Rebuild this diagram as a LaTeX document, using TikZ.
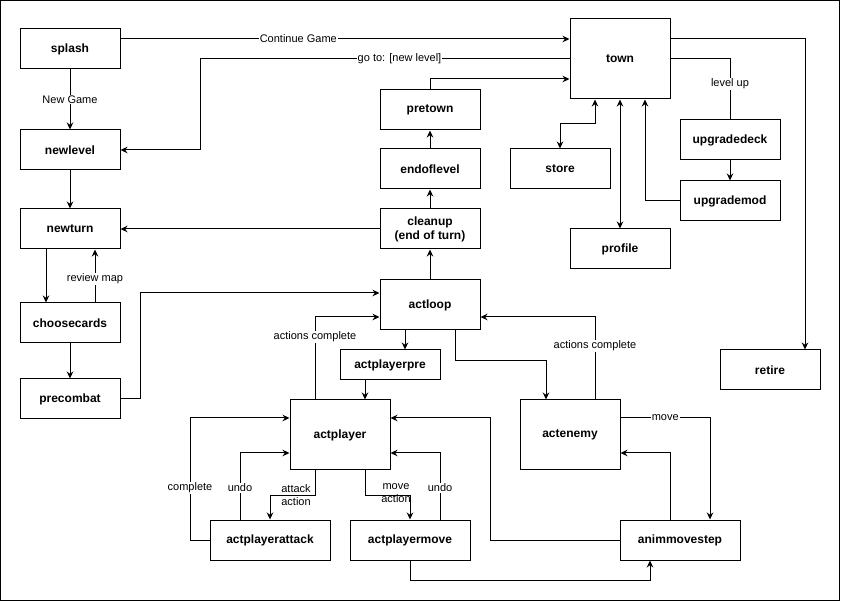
\documentclass[tikz,border=0pt]{standalone}
\usepackage{fontspec}
\setmainfont{Liberation Sans}
\usetikzlibrary{arrows.meta}
\begin{document}
\begin{tikzpicture}[x=1pt,y=-1pt,line width=1pt,
  box/.style={draw,line width=1pt,minimum width=100pt,minimum height=40pt,inner sep=0pt,
    font=\bfseries\fontsize{12}{14}\selectfont,align=center},
  arr/.style={-{Stealth[length=7pt,width=6.5pt]}},
  dbl/.style={{Stealth[length=7pt,width=6.5pt]}-{Stealth[length=7pt,width=6.5pt]}},
  lbl/.style={fill=white,inner sep=1pt,font=\fontsize{11}{12.5}\selectfont,align=center}]
\useasboundingbox (0,0) rectangle (841,601);
\draw (0.5,0.5) rectangle (839.5,600);
% nodes
\node[box] (splash) at (70,49) {splash};
\node[box] (newlevel) at (70,150) {newlevel};
\node[box] (newturn) at (70,229) {newturn};
\node[box] (choosecards) at (70,323) {choosecards};
\node[box] (precombat) at (70,399) {precombat};
\node[box,minimum height=80pt] (town) at (620,59) {town};
\node[box] (pretown) at (430,110) {pretown};
\node[box] (endoflevel) at (430,169) {endoflevel};
\node[box] (store) at (560,169) {store};
\node[box] (upgradedeck) at (730,140) {upgradedeck};
\node[box] (upgrademod) at (730,201) {upgrademod};
\node[box] (profile) at (620,249) {profile};
\node[box] (retire) at (770,370) {retire};
\node[box] (cleanup) at (430,229) {cleanup\\(end of turn)};
\node[box,minimum height=50pt] (actloop) at (430,305) {actloop};
\node[box,minimum height=30pt] (actplayerpre) at (390,365) {actplayerpre};
\node[box,minimum height=70pt] (actplayer) at (340,435) {actplayer};
\node[box,minimum height=70pt] (actenemy) at (570,435) {actenemy};
\node[box,minimum width=120pt] (actplayerattack) at (270,540) {actplayerattack};
\node[box,minimum width=120pt] (actplayermove) at (410,540) {actplayermove};
\node[box,minimum width=120pt] (animmovestep) at (680,540) {animmovestep};
% edges
\draw[arr] ([yshift=10pt]splash.east) -- node[lbl,pos=0.396]{Continue Game} ([yshift=20pt]town.west);
\draw[arr] (town.west) -- node[lbl,pos=0.46]{go to: [new level]} (200,59) |- (newlevel.east);
\draw[arr] (pretown.north) |- ([yshift=-20pt]town.west);
\draw[arr] (splash) -- node[lbl]{New Game} (newlevel);
\draw[arr] (newlevel) -- (newturn);
\draw[arr] ([xshift=-24pt]newturn.south) -- ([xshift=-24pt]choosecards.north);
\draw[arr] ([xshift=25pt]choosecards.north) -- node[lbl,pos=0.45]{review map} ([xshift=25pt]newturn.south);
\draw[arr] (choosecards) -- (precombat);
\draw[arr] (precombat.east) -- (140,399) |- ([yshift=12pt]actloop.west);
\draw[arr] ([xshift=-25pt]actplayer.north) |- node[lbl,pos=0.38]{actions complete} ([yshift=-12pt]actloop.west);
\draw[arr] ([xshift=-25pt]actloop.south) -- ([xshift=15pt]actplayerpre.north);
\draw[arr] ([xshift=-25pt]actplayerpre.south) -- ([xshift=25pt]actplayer.north);
\draw[arr] ([xshift=25pt]actloop.south) -- (455,361) -| ([xshift=-24pt]actenemy.north);
\draw[arr] ([xshift=25pt]actenemy.north) |- node[lbl,pos=0.325]{actions complete} ([yshift=-12pt]actloop.east);
\draw[arr] (actloop) -- (cleanup);
\draw[arr] (cleanup.west) -- (newturn.east);
\draw[arr] (cleanup) -- (endoflevel);
\draw[arr] (endoflevel) -- (pretown);
\draw[dbl] (store.north) -- (560,124) -| ([xshift=-25pt]town.south);
\draw[dbl] (town.south) -- (profile.north);
\draw[arr] (upgrademod.west) -| ([xshift=25pt]town.south);
\draw (town.east) -| node[lbl,pos=0.705]{level up} (upgradedeck.north);
\draw[arr] (upgradedeck) -- (upgrademod);
\draw[arr] ([yshift=20pt]town.east) -| ([xshift=35pt]retire.north);
\draw[arr] ([xshift=-25pt]actplayer.south) -- (315,495) -| (actplayerattack.north);
\node[lbl,fill=none] (lattack) at (296,495) {attack\\action};
\draw[arr] ([xshift=-30pt]actplayerattack.north) |- node[lbl,pos=0.24]{undo} ([yshift=-18pt]actplayer.west);
\draw[arr] (actplayerattack.west) -- (190,540) |- node[lbl,pos=0.213]{complete} ([yshift=17pt]actplayer.west);
\draw[arr] ([xshift=25pt]actplayer.south) -- (365,495) -| (actplayermove.north);
\node[lbl,fill=none] (lmove) at (396,493) {move\\action};
\draw[arr] ([xshift=30pt]actplayermove.north) |- node[lbl,pos=0.24]{undo} ([yshift=-18pt]actplayer.east);
\draw[arr] (animmovestep.west) -- (490,540) |- ([yshift=17pt]actplayer.east);
\draw[arr] (actplayermove.south) -- (410,580) -| ([xshift=-30pt]animmovestep.south);
\draw[arr] ([yshift=17pt]actenemy.east) -- node[lbl]{move} (710,418) -- ([xshift=30pt]animmovestep.north);
\draw[arr] ([xshift=-10pt]animmovestep.north) |- ([yshift=-18pt]actenemy.east);
\end{tikzpicture}
\end{document}
